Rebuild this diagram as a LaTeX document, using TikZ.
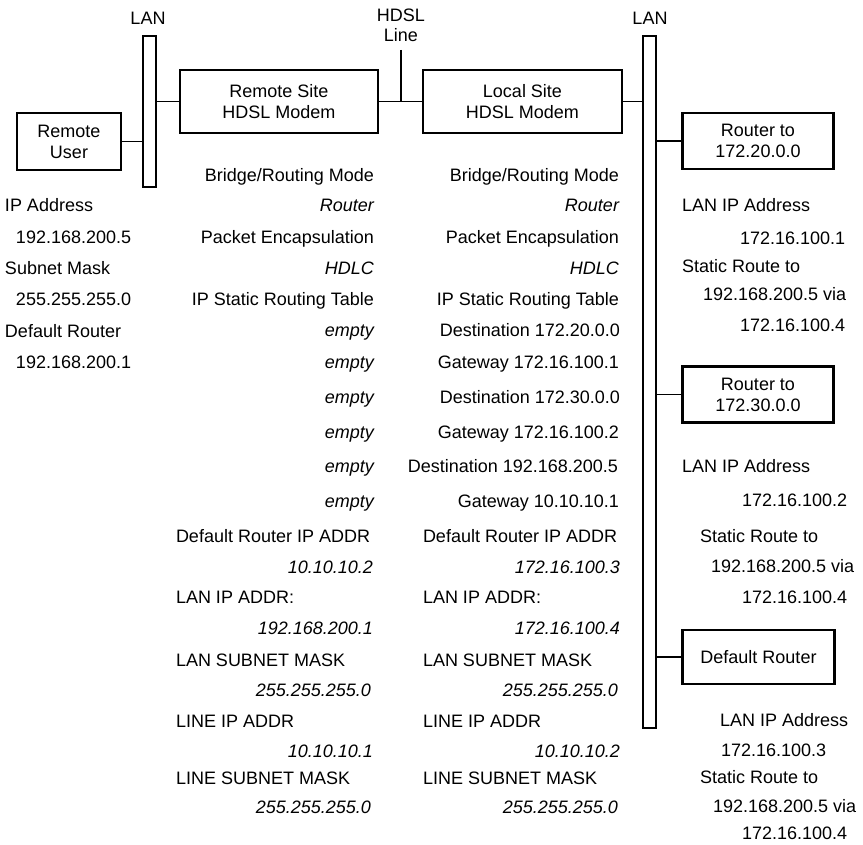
\documentclass[tikz,border=0pt]{standalone}
\usepackage{fontspec}
\setmainfont{Liberation Sans}
\begin{document}
\begin{tikzpicture}[x=1pt,y=-1pt,
  every node/.style={font=\fontsize{18}{21}\selectfont, inner sep=0pt, outer sep=0pt},
  box/.style={draw, line width=2.2pt, align=center},
  bar/.style={draw, line width=1.6pt, minimum width=13pt},
  conn/.style={line width=1.3pt},
  rt/.style={anchor=base east},
  lt/.style={anchor=base west},
  it/.style={font=\fontsize{18}{21}\selectfont\itshape},
  lab/.style={align=center, font=\fontsize{18}{20}\selectfont}
]
\useasboundingbox (0,0) rectangle (863,845);

% top labels
\node[lab] (lanA) at (148,18) {LAN};
\node[lab] (lanB) at (650,18) {LAN};
\node[lab] (hdsl) at (401,25) {HDSL\\Line};

% LAN bars
\node[bar, minimum height=151pt] (lan1) at (149.5,111.5) {};
\node[bar, minimum height=692pt] (lan2) at (649.5,382) {};

% boxes
\node[box, minimum width=104pt, minimum height=57pt] (ru) at (69,141.5) {Remote\\User};
\node[box, minimum width=198pt, minimum height=63pt] (rm) at (279,101.5) {Remote Site\\HDSL Modem};
\node[box, minimum width=199pt, minimum height=63pt] (lm) at (522.5,101.5) {Local Site\\HDSL Modem};
\node[box, minimum width=151pt, minimum height=56pt] (r1) at (758,141) {Router to\\172.20.0.0};
\node[box, minimum width=151pt, minimum height=56pt] (r2) at (758,394.5) {Router to\\172.30.0.0};
\node[box, minimum width=152pt, minimum height=54pt] (r3) at (758.5,657) {Default Router};

% connectors
\draw[conn] (ru.east) -- (ru.east -| lan1.west);
\draw[conn] (lan1.east |- rm.west) -- (rm.west);
\draw[conn] (rm.east) -- (lm.west);
\coordinate (hd) at (401,50);
\draw[conn] (hd) -- (hd |- rm.east);
\draw[conn] (lm.east) -- (lm.east -| lan2.west);
\draw[conn] (lan2.east |- r1.west) -- (r1.west);
\draw[conn] (lan2.east |- r2.west) -- (r2.west);
\draw[conn] (lan2.east |- r3.west) -- (r3.west);

% far-left column
\node[lt] (f1) at (5,211.5) {IP Address};
\node[lt] (f2) at (16,243.5) {192.168.200.5};
\node[lt] (f3) at (5,274.5) {Subnet Mask};
\node[lt] (f4) at (16,305.5) {255.255.255.0};
\node[lt] (f5) at (5,337.5) {Default Router};
\node[lt] (f6) at (16,368.5) {192.168.200.1};

% left column (remote modem)
\node[rt] (l1) at (374,181.5) {Bridge/Routing Mode};
\node[rt,it] (l2) at (374,211.5) {Router};
\node[rt] (l3) at (374,243.5) {Packet Encapsulation};
\node[rt,it] (l4) at (374,274.5) {HDLC};
\node[rt] (l5) at (374,305.5) {IP Static Routing Table};
\node[rt,it] (l6) at (374,336.5) {empty};
\node[rt,it] (l7) at (374,368.5) {empty};
\node[rt,it] (l8) at (374,403.5) {empty};
\node[rt,it] (l9) at (374,438.5) {empty};
\node[rt,it] (l10) at (374,472.5) {empty};
\node[rt,it] (l11) at (374,507.5) {empty};
\node[lt] (l12) at (176,542.5) {Default Router IP ADDR};
\node[rt,it] (l13) at (373,573.5) {10.10.10.2};
\node[lt] (l14) at (176,603.5) {LAN IP ADDR:};
\node[rt,it] (l15) at (373,634.5) {192.168.200.1};
\node[lt] (l16) at (176,666.5) {LAN SUBNET MASK};
\node[rt,it] (l17) at (371,696.5) {255.255.255.0};
\node[lt] (l18) at (176,727.5) {LINE IP ADDR};
\node[rt,it] (l19) at (373,757.5) {10.10.10.1};
\node[lt] (l20) at (176,784) {LINE SUBNET MASK};
\node[rt,it] (l21) at (371,813) {255.255.255.0};

% middle column (local modem)
\node[rt] (m1) at (619,181.5) {Bridge/Routing Mode};
\node[rt,it] (m2) at (619,211.5) {Router};
\node[rt] (m3) at (619,243.5) {Packet Encapsulation};
\node[rt,it] (m4) at (619,274.5) {HDLC};
\node[rt] (m5) at (619,305.5) {IP Static Routing Table};
\node[rt] (m6) at (620,336.5) {Destination 172.20.0.0};
\node[rt] (m7) at (619,368.5) {Gateway 172.16.100.1};
\node[rt] (m8) at (620,403.5) {Destination 172.30.0.0};
\node[rt] (m9) at (619,438.5) {Gateway 172.16.100.2};
\node[rt] (m10) at (618,472.5) {Destination 192.168.200.5};
\node[rt] (m11) at (619,507.5) {Gateway 10.10.10.1};
\node[lt] (m12) at (423,542.5) {Default Router IP ADDR};
\node[rt,it] (m13) at (620,573.5) {172.16.100.3};
\node[lt] (m14) at (423,603.5) {LAN IP ADDR:};
\node[rt,it] (m15) at (620,634.5) {172.16.100.4};
\node[lt] (m16) at (423,666.5) {LAN SUBNET MASK};
\node[rt,it] (m17) at (618,696.5) {255.255.255.0};
\node[lt] (m18) at (423,727.5) {LINE IP ADDR};
\node[rt,it] (m19) at (620,757.5) {10.10.10.2};
\node[lt] (m20) at (423,784) {LINE SUBNET MASK};
\node[rt,it] (m21) at (618,813) {255.255.255.0};

% right column, router to 172.20.0.0
\node[lt] (a1) at (682,211.5) {LAN IP Address};
\node[lt] (a2) at (740,244.5) {172.16.100.1};
\node[lt] (a3) at (682,272.5) {Static Route to};
\node[lt] (a4) at (703,300.5) {192.168.200.5 via};
\node[lt] (a5) at (740,331.5) {172.16.100.4};

% right column, router to 172.30.0.0
\node[lt] (b1) at (682,472.5) {LAN IP Address};
\node[lt] (b2) at (742,506.5) {172.16.100.2};
\node[lt] (b3) at (700,542.5) {Static Route to};
\node[lt] (b4) at (711,572.5) {192.168.200.5 via};
\node[lt] (b5) at (742,603.5) {172.16.100.4};

% right column, default router
\node[lt] (c1) at (720,726.5) {LAN IP Address};
\node[lt] (c2) at (721,756.5) {172.16.100.3};
\node[lt] (c3) at (700,783.5) {Static Route to};
\node[lt] (c4) at (713,812) {192.168.200.5 via};
\node[lt] (c5) at (742,839.5) {172.16.100.4};
\end{tikzpicture}
\end{document}
